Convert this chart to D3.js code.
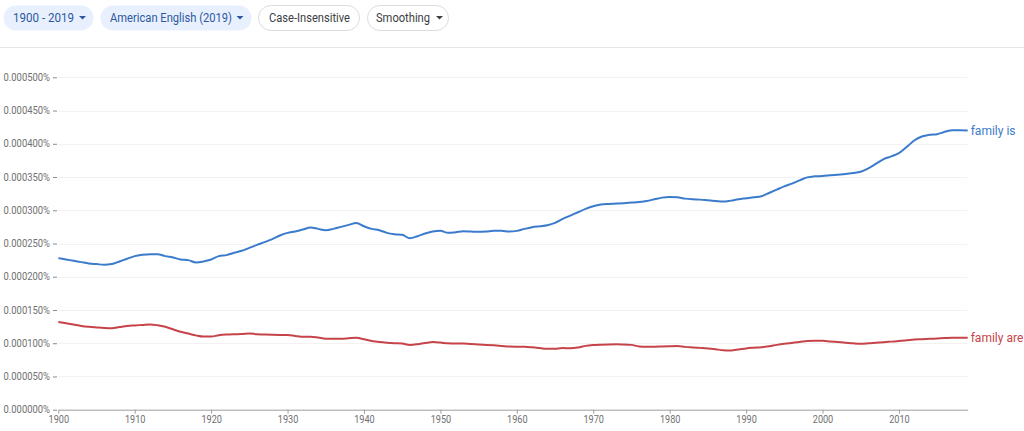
<!DOCTYPE html>
<html>
<head>
<meta charset="utf-8">
<script src="https://cdn.jsdelivr.net/npm/d3@7"></script>
<style>
  html, body { margin: 0; padding: 0; background: #fff; }
  svg { display: block; font-family: Roboto, "Noto Sans", sans-serif; }
</style>
</head>
<body>
<svg id="chart" width="1024" height="431"></svg>
<script>
// ---- data (values in units of 0.000001 %) ----
const years = d3.range(1900, 2020);
const familyIs = [
  228, 226, 224, 222, 220, 219, 218, 219, 223, 227,
  231, 233, 234, 234, 231, 229, 226, 225, 221.5, 223,
  226, 231, 232.5, 236, 239, 243.5, 248, 252, 256.5, 262,
  266, 268, 271, 274, 272, 270, 272, 275, 278, 281,
  276, 272, 270, 266, 264, 263, 258, 261, 265, 268,
  269, 266, 267, 268.5, 268, 267.5, 268, 269, 269, 268,
  269, 272, 274.5, 276, 277.5, 281, 287, 292, 297, 302,
  306, 308.5, 309.5, 310, 310.5, 311.5, 312.5, 314, 316.5, 319,
  320, 319.5, 317.5, 316.5, 316, 315, 314, 313, 314.5, 316.5,
  318, 319.5, 321, 326, 331, 336, 340, 345, 349.5, 351,
  351.5, 352.5, 353.5, 354.5, 356, 358, 363, 370, 377, 381,
  386, 395, 405, 411, 413.5, 414.5, 418, 420.5, 420.5, 420
];
const familyAre = [
  132, 130, 128, 126, 124.7, 123.8, 123, 122.6, 124.3, 126,
  126.8, 127.5, 128.3, 127, 124.7, 121, 117.2, 114.5, 111.8, 110,
  110, 112, 113, 113.5, 113.8, 114.8, 113.5, 113.2, 112.8, 112.5,
  112.3, 111, 109.7, 109.7, 108.5, 106.8, 106.7, 106.8, 107.5, 108.2,
  106, 103.5, 101.8, 100.7, 100, 99.5, 97.5, 98.5, 100.3, 101.7,
  101, 99.8, 99.7, 99.7, 98.8, 98.2, 97.5, 96.8, 96, 95,
  94.7, 94.6, 93.8, 92.7, 91.5, 91.8, 92.7, 92.3, 93.5, 96,
  97.2, 97.8, 98.2, 98.3, 98.2, 97.5, 95.2, 94.7, 94.7, 95,
  95.4, 95.7, 94.5, 93.7, 93, 92.2, 91, 89.5, 89.2, 90.5,
  92.2, 93.2, 94, 95.5, 97.5, 99.2, 100.5, 101.8, 103.5, 103.8,
  103.7, 102.7, 101.7, 100.8, 99.8, 99.2, 99.8, 100.7, 101.5, 102.4,
  103.2, 104.3, 105.5, 106, 106.6, 107.2, 107.8, 108.2, 108.2, 108.2
];
const seriesNames = ["family is", "family are"];
const yTicks = [0, 50, 100, 150, 200, 250, 300, 350, 400, 450, 500];
const xTicks = [1900, 1910, 1920, 1930, 1940, 1950, 1960, 1970, 1980, 1990, 2000, 2010];
const chipLabels = ["1900 - 2019", "American English (2019)", "Case-Insensitive", "Smoothing"];

// ---- drawing ----
const svg = d3.select("#chart");
const colors = ["#3b7bcb", "#c7434a"];

// squeeze a text node horizontally so that it spans the given width
function squeeze(node, factor) {
  const w = node.getComputedTextLength();
  d3.select(node).attr("textLength", w * factor).attr("lengthAdjust", "spacingAndGlyphs");
}

// header chips
const chips = [
  {x: 3,   w: 91,  filled: true,  tx: 13,  tw: 61,  caret: 82.5},
  {x: 100, w: 152, filled: true,  tx: 110, tw: 122, caret: 240},
  {x: 258, w: 102, filled: false, tx: 269, tw: 81,  caret: null},
  {x: 367, w: 82,  filled: false, tx: 376, tw: 54,  caret: 439.5}
];
chips.forEach((c, i) => {
  const g = svg.append("g");
  g.append("rect")
    .attr("x", c.x + 0.5).attr("y", 5.5)
    .attr("width", c.w - 1).attr("height", 25)
    .attr("rx", 12.5)
    .attr("fill", c.filled ? "#e8f0fe" : "#fff")
    .attr("stroke", c.filled ? "none" : "#dadce0");
  const t = g.append("text")
    .attr("x", c.tx)
    .attr("y", 22)
    .attr("font-size", 12.5)
    .attr("fill", c.filled ? "#2c58a0" : "#3c4043")
    .text(chipLabels[i]);
  const w = t.node().getComputedTextLength();
  t.attr("textLength", c.tw).attr("lengthAdjust", "spacingAndGlyphs");
  if (c.caret !== null) {
    const cx = c.caret;
    g.append("path")
      .attr("d", `M${cx - 3.5},16 L${cx + 3.5},16 L${cx},19.5 Z`)
      .attr("fill", c.filled ? "#2c58a0" : "#3c4043");
  }
});
// separator
svg.append("line")
  .attr("x1", 0).attr("x2", 1024)
  .attr("y1", 47.5).attr("y2", 47.5)
  .attr("stroke", "#e6e6e6").attr("stroke-width", 1);

// scales
const x = d3.scaleLinear().domain([1900, 2019]).range([58.3, 967.7]);
const y = d3.scaleLinear().domain([0, 500]).range([409.7, 77.3]);

const fmt = d => (d * 1e-6).toFixed(6) + "%";

// gridlines
svg.append("g")
  .selectAll("line")
  .data(yTicks.filter(d => d > 0))
  .join("line")
  .attr("x1", 58.3).attr("x2", 967.7)
  .attr("y1", d => Math.round(y(d)) + 0.5).attr("y2", d => Math.round(y(d)) + 0.5)
  .attr("stroke", "#f2f2f2");

// y axis (ticks + labels, no domain line)
const yAxis = svg.append("g")
  .attr("transform", "translate(57,0)")
  .call(d3.axisLeft(y).tickValues(yTicks).tickFormat(fmt).tickSize(4).tickPadding(3));
yAxis.select(".domain").remove();
yAxis.selectAll(".tick line").attr("stroke", "#8a8a8a");
yAxis.selectAll(".tick text")
  .attr("fill", "#707070")
  .attr("font-size", 10)
  .attr("font-family", "Roboto, sans-serif");
{
  const sample = yAxis.select(".tick text").node().getComputedTextLength();
  const f = 46.5 / sample;
  yAxis.selectAll(".tick text").each(function () { squeeze(this, f); });
}

// x axis
const xAxis = svg.append("g")
  .attr("transform", `translate(0,${y(0)})`)
  .call(d3.axisBottom(x).tickValues(xTicks).tickFormat(d3.format("d")).tickSize(4).tickPadding(2).tickSizeOuter(0));
xAxis.select(".domain").attr("stroke", "#9e9e9e");
xAxis.selectAll(".tick line").attr("stroke", "#9e9e9e");
xAxis.selectAll(".tick text")
  .attr("fill", "#707070")
  .attr("font-size", 11)
  .attr("font-family", "Roboto, sans-serif");
{
  const sample = xAxis.select(".tick text").node().getComputedTextLength();
  const f = 20.5 / sample;
  xAxis.selectAll(".tick text").each(function () { squeeze(this, f); });
}

// lines
const line = d3.line()
  .x((d, i) => x(years[i]))
  .y(d => y(d))
  .curve(d3.curveMonotoneX);

[familyIs, familyAre].forEach((vals, k) => {
  svg.append("path")
    .datum(vals)
    .attr("d", line)
    .attr("fill", "none")
    .attr("stroke", colors[k])
    .attr("stroke-width", 2)
    .attr("stroke-linejoin", "round");
  svg.append("text")
    .attr("x", x(2019) + 3)
    .attr("y", y(vals[vals.length - 1]))
    .attr("dy", "0.35em")
    .attr("font-size", 12)
    .attr("fill", colors[k])
    .text(seriesNames[k]);
});
</script>
</body>
</html>
